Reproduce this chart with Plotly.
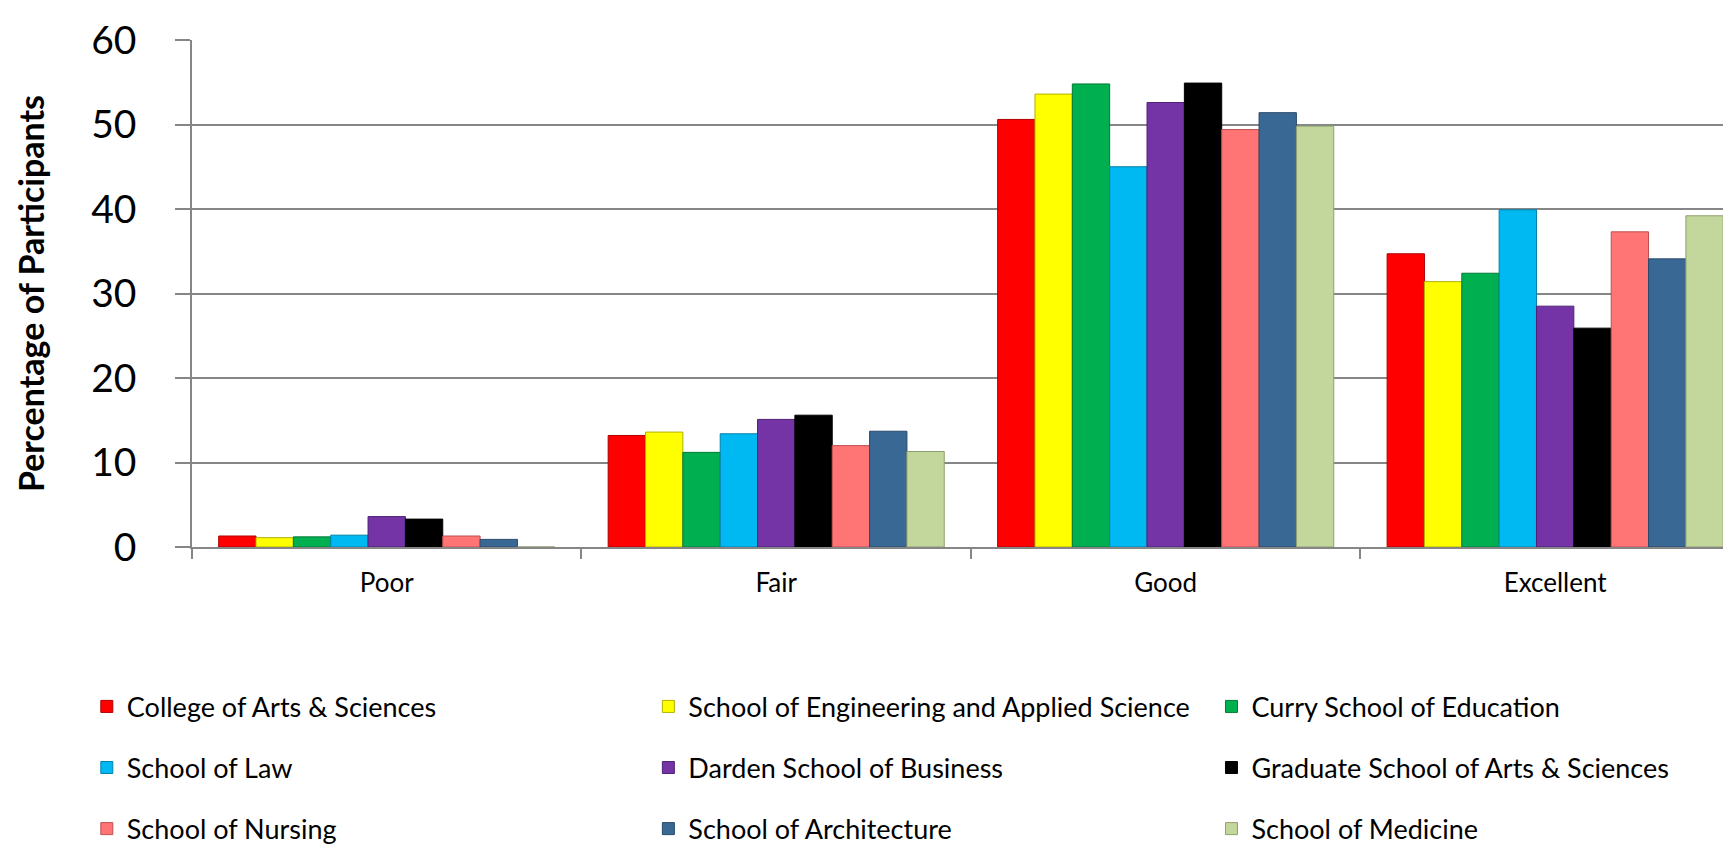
import plotly.graph_objects as go

categories = ["Poor", "Fair", "Good", "Excellent"]
schools = [
    "College of Arts & Sciences",
    "School of Engineering and Applied Science",
    "Curry School of Education",
    "School of Law",
    "Darden School of Business",
    "Graduate School of Arts & Sciences",
    "School of Nursing",
    "School of Architecture",
    "School of Medicine",
]
arts_sciences = [1.3, 13.2, 50.6, 34.7]
engineering = [1.1, 13.6, 53.6, 31.4]
education = [1.2, 11.2, 54.8, 32.4]
law = [1.4, 13.4, 45.0, 39.9]
darden = [3.6, 15.1, 52.6, 28.5]
graduate = [3.3, 15.6, 54.9, 25.9]
nursing = [1.3, 12.0, 49.4, 37.3]
architecture = [0.9, 13.7, 51.4, 34.1]
medicine = [0.0, 11.3, 49.8, 39.2]
values = [arts_sciences, engineering, education, law, darden, graduate,
          nursing, architecture, medicine]
colors = ["#FF0000", "#FFFF00", "#00B050", "#00B8F2", "#7434A6",
          "#000000", "#FF7474", "#3A6894", "#C3D69B"]
edges = ["#B00000", "#B0B000", "#007A38", "#0082AA", "#4E2274",
         "#000000", "#C05050", "#284A6A", "#8FA070"]

FONT = "Lato"
fig = go.Figure()
legend_ids = ["legend", "legend2", "legend3"]
for i, (name, vals) in enumerate(zip(schools, values)):
    fig.add_trace(go.Bar(
        x=categories, y=vals, name=name,
        marker=dict(color=colors[i], line=dict(color=edges[i], width=1)),
        legend=legend_ids[i % 3], legendgroup=name,
    ))

leg_common = dict(orientation="v", yanchor="top", y=-0.267, xanchor="left",
                  font=dict(family=FONT, size=27, color="#000000"),
                  tracegroupgap=23, bgcolor="rgba(0,0,0,0)",
                  borderwidth=0)
fig.update_layout(
    width=1731, height=847,
    margin=dict(l=184, r=0, t=32, b=308, autoexpand=False),
    paper_bgcolor="white", plot_bgcolor="white",
    barmode="group", bargap=0.137, bargroupgap=0,
    font=dict(family=FONT, color="#000000"),
    legend=dict(x=-0.068, **leg_common),
    legend2=dict(x=0.295, **leg_common),
    legend3=dict(x=0.659, **leg_common),
    xaxis=dict(
        range=[-0.5, 3.472], showgrid=False, showline=True,
        linecolor="#868686", linewidth=1.5, automargin=False,
        ticks="outside", tickson="boundaries", ticklen=10,
        tickcolor="#868686", tickwidth=1.5,
        tickfont=dict(family=FONT, size=26, color="#000000"),
        ticklabelstandoff=12,
    ),
    yaxis=dict(
        range=[0, 60], dtick=10, showgrid=True, gridcolor="#868686",
        gridwidth=1.5, showline=True, linecolor="#868686", linewidth=1.5,
        ticks="outside", ticklen=15, tickcolor="#868686", tickwidth=1.5,
        tickfont=dict(family=FONT, size=39, color="#000000"),
        ticklabelstandoff=31, zeroline=False, automargin=False,
        title=dict(text="<b>Percentage of Participants</b>",
                   font=dict(family=FONT, size=34, color="#000000"),
                   standoff=36),
    ),
)
fig.write_html("out.html")
